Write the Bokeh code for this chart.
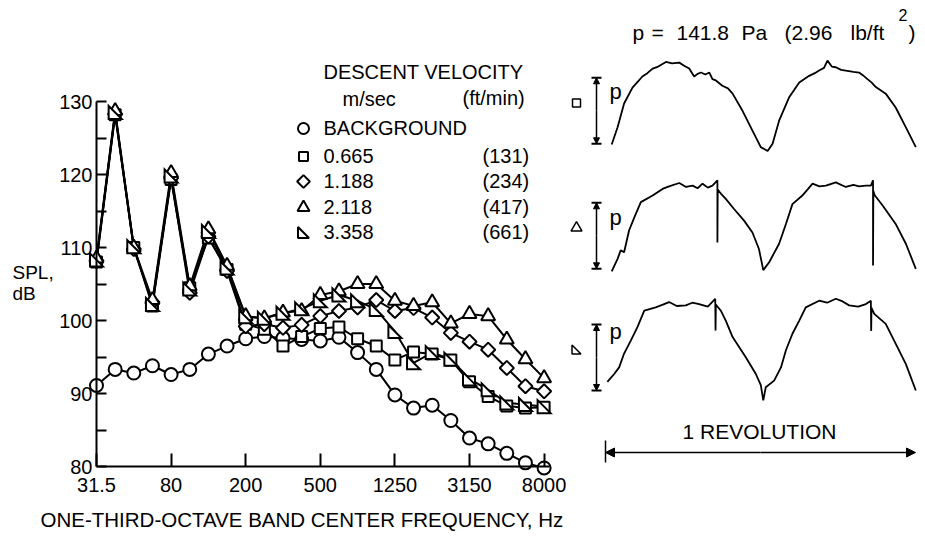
import numpy as np
from bokeh.plotting import figure
from bokeh.layouts import row
from bokeh.models import Range1d, FixedTicker, Label, Arrow, NormalHead
from bokeh.embed import file_html
from bokeh.resources import INLINE

# ---------------- data ----------------
bands = ["31.5", "40", "50", "63", "80", "100", "125", "160", "200", "250", "315", "400",
         "500", "630", "800", "1000", "1250", "1600", "2000", "2500", "3150", "4000",
         "5000", "6300", "8000"]
tick_band_labels = ["31.5", "80", "200", "500", "1250", "3150", "8000"]
y_ticks = [80, 90, 100, 110, 120, 130]
y_minor = [85, 95, 105, 115, 125]

spl_background = [91.1, 93.3, 92.8, 93.8, 92.6, 93.3, 95.4, 96.5, 97.5, 97.8, 97.6, 97.4,
                  97.2, 97.7, 95.6, 93.3, 89.8, 88.0, 88.4, 86.3, 83.9, 83.1, 81.8, 80.5, 79.8]
spl_0665 = [108.0, 128.2, 110.0, 102.0, 119.3, 104.5, 111.3, 107.0, 99.5, 98.8, 96.5, 97.8,
            98.9, 99.1, 97.5, 96.5, 94.6, 95.7, 95.4, 94.6, 91.6, 89.6, 88.3, 88.0, 88.1]
spl_1188 = [108.2, 128.3, 109.8, 102.5, 119.5, 103.8, 111.5, 106.8, 99.2, 99.5, 99.0, 99.4,
            100.6, 101.3, 101.8, 102.8, 101.3, 101.7, 100.4, 98.3, 97.1, 96.0, 93.5, 91.0, 90.3]
spl_2118 = [108.5, 128.7, 110.0, 102.8, 120.2, 104.7, 112.5, 107.5, 100.6, 100.3, 101.1, 101.3,
            103.5, 104.0, 105.0, 105.0, 102.7, 102.0, 102.5, 99.6, 100.9, 100.6, 97.4, 94.7, 92.1]
spl_3358 = [108.3, 128.5, 110.1, 102.2, 119.8, 104.3, 112.2, 107.2, 100.5, 100.3, 101.0, 101.6,
            102.7, 103.5, 102.7, 101.5, 98.5, 94.2, 95.6, 94.7, 92.0, 90.5, 88.7, 88.5, 88.2]

legend_title = "DESCENT VELOCITY"
legend_units = ["m/sec", "(ft/min)"]
legend_ms = ["BACKGROUND", "0.665", "1.188", "2.118", "3.358"]
legend_ftmin = ["", "(131)", "(234)", "(417)", "(661)"]

# blade-passage pressure traces (fraction of revolution, pressure in units of p)
trace_sq_r = [0.020, 0.039, 0.060, 0.087, 0.100, 0.119, 0.135, 0.152, 0.170, 0.195, 0.215, 0.238,
              0.255, 0.270, 0.286, 0.297, 0.308, 0.322, 0.335, 0.345, 0.356, 0.377, 0.395, 0.410,
              0.442, 0.474, 0.501, 0.523, 0.539, 0.560, 0.593, 0.625, 0.657, 0.675, 0.689, 0.705,
              0.716, 0.730, 0.743, 0.760, 0.775, 0.800, 0.818, 0.830, 0.845, 0.858, 0.872, 0.904,
              0.936, 0.969, 1.001]
trace_sq_p = [-0.01, 0.25, 0.61, 0.85, 0.92, 1.02, 1.07, 1.14, 1.17, 1.24, 1.22, 1.23,
              1.18, 1.14, 1.02, 1.06, 1.08, 1.05, 1.08, 0.98, 0.96, 0.88, 0.84, 0.76,
              0.50, 0.20, -0.05, -0.11, 0.00, 0.35, 0.71, 0.93, 1.03, 1.07, 1.11, 1.15,
              1.26, 1.17, 1.16, 1.12, 1.11, 1.09, 1.08, 1.04, 0.98, 0.93, 0.86, 0.76,
              0.55, 0.25, -0.05]
trace_tri_r = [0.020, 0.039, 0.049, 0.060, 0.076, 0.093, 0.114, 0.152, 0.184, 0.205, 0.238, 0.260,
               0.281, 0.297, 0.313, 0.330, 0.345, 0.361, 0.361, 0.362, 0.372, 0.388, 0.414, 0.447,
               0.474, 0.495, 0.509, 0.528, 0.560, 0.582, 0.603, 0.635, 0.668, 0.690, 0.711, 0.743,
               0.775, 0.800, 0.818, 0.840, 0.856, 0.863, 0.863, 0.864, 0.869, 0.894, 0.936, 0.969,
               1.001]
trace_tri_p = [-0.04, 0.15, 0.28, 0.25, 0.58, 0.78, 1.01, 1.11, 1.21, 1.25, 1.30, 1.24,
               1.26, 1.22, 1.29, 1.23, 1.26, 1.34, 0.40, 1.20, 1.14, 1.06, 0.91, 0.73,
               0.55, 0.30, -0.02, 0.10, 0.38, 0.68, 0.98, 1.11, 1.29, 1.25, 1.26, 1.31,
               1.24, 1.27, 1.25, 1.26, 1.26, 1.34, 0.05, 1.18, 1.11, 0.96, 0.68, 0.38,
               0.00]
trace_rt_r = [0.006, 0.028, 0.044, 0.060, 0.082, 0.103, 0.125, 0.162, 0.185, 0.205, 0.230, 0.259,
              0.280, 0.302, 0.330, 0.354, 0.355, 0.356, 0.365, 0.372, 0.388, 0.410, 0.453, 0.485,
              0.501, 0.509, 0.517, 0.544, 0.566, 0.582, 0.603, 0.625, 0.646, 0.689, 0.715, 0.743,
              0.765, 0.786, 0.815, 0.840, 0.856, 0.857, 0.858, 0.867, 0.904, 0.936, 0.969, 1.001]
trace_rt_p = [0.13, 0.25, 0.35, 0.56, 0.76, 0.96, 1.21, 1.26, 1.30, 1.34, 1.28, 1.29,
              1.33, 1.31, 1.27, 1.39, 0.91, 1.30, 1.25, 1.21, 1.06, 0.81, 0.50, 0.25,
              0.08, -0.15, 0.05, 0.15, 0.35, 0.61, 0.86, 1.06, 1.26, 1.36, 1.33, 1.39,
              1.35, 1.29, 1.27, 1.31, 1.36, 0.90, 1.25, 1.16, 1.01, 0.71, 0.40, 0.00]
scale_p = 1.0
revolution = [0.0, 1.0]

FONT = "Liberation Sans"
TXT_FIX = 9.0   # labels with an alphabetic baseline land this many px low

# ---------------- left chart ----------------
LW, H = 566, 532
XS, X0 = 18.65, 96.0      # px per band, canvas x of first band
YS, Y130 = 7.3, 101.0      # px per dB, canvas y of 130 dB


def lx(cx):
    return (cx - X0) / XS


def ly(cy):
    return 130 - (cy - Y130) / YS


p = figure(width=LW, height=H, output_backend="svg", toolbar_location=None,
           x_range=Range1d(lx(0), lx(LW)), y_range=Range1d(ly(H), ly(0)),
           min_border=0, min_border_left=0, min_border_right=0, min_border_top=0,
           min_border_bottom=0)
p.outline_line_color = None
p.grid.visible = False
p.background_fill_color = "white"
p.border_fill_color = "white"

idx = np.arange(len(bands))
tick_idx = [bands.index(b) for b in tick_band_labels]

xa = p.xaxis[0]
xa.fixed_location = 80
xa.bounds = (0, 24.3)
xa.ticker = FixedTicker(ticks=tick_idx, minor_ticks=[])
xa.major_label_overrides = {i: b for i, b in zip(tick_idx, tick_band_labels)}
ya = p.yaxis[0]
ya.fixed_location = 0
ya.bounds = (80, 130)
ya.ticker = FixedTicker(ticks=y_ticks, minor_ticks=y_minor)
for ax in (xa, ya):
    ax.axis_line_width = 2
    ax.axis_line_color = "black"
    ax.major_tick_line_width = 2
    ax.minor_tick_line_width = 2
    ax.major_tick_out = 0
    ax.minor_tick_out = 0
    ax.major_label_text_font = FONT
    ax.major_label_text_font_size = "20px"
    ax.major_label_text_color = "black"
xa.major_tick_in = 13
xa.major_label_standoff = 11
ya.major_tick_in = 10
ya.minor_tick_in = 10
ya.major_label_standoff = 4

series = [spl_background, spl_0665, spl_1188, spl_2118, spl_3358]
for s in series:
    p.line(idx, s, line_color="black", line_width=2)

p.scatter(idx, spl_background, marker="circle", size=13, fill_color="white",
          line_color="black", line_width=2)
p.scatter(idx, spl_0665, marker="square", size=11, fill_color="white",
          line_color="black", line_width=2)
p.scatter(idx, spl_1188, marker="square", angle=np.pi / 4, size=10, fill_color="white",
          line_color="black", line_width=2)
p.scatter(idx, spl_2118, marker="triangle", size=14, fill_color="white",
          line_color="black", line_width=2)


def rt_tri(xc, yc, hx, hy):
    xs = [[x - hx, x - hx, x + hx] for x in xc]
    ys = [[y + hy, y - hy, y - hy] for y in yc]
    return xs, ys


hx, hy = 6.5 / XS, 6.5 / YS
xs, ys = rt_tri(idx, spl_3358, hx, hy)
p.patches(xs, ys, fill_color="white", line_color="black", line_width=2,
          line_join="miter")


def ltext(fig, cx, cy, text, size, align="left"):
    fig.add_layout(Label(x=lx(cx), y=ly(cy - TXT_FIX), text=text, text_font=FONT,
                         text_font_size=size, text_align=align,
                         text_baseline="alphabetic", text_color="black"))


# y-axis title
ltext(p, 12, 281, "SPL,", "19px")
ltext(p, 12, 302, "dB", "19px")
# x-axis title
ltext(p, 40, 528, "ONE-THIRD-OCTAVE BAND CENTER FREQUENCY, Hz", "20.5px")

# legend
ltext(p, 323, 80, legend_title, "20px")
ltext(p, 342, 107, legend_units[0], "20px")
ltext(p, 462, 106, legend_units[1], "20px")
row_y = [128, 156, 181, 207, 232]
mk_x = 303
for k, (a, b) in enumerate(zip(legend_ms, legend_ftmin)):
    cy = row_y[k]
    ltext(p, 323, cy + 8, a, "20px")
    if b:
        ltext(p, 482, cy + 8, b, "20px")
p.scatter([lx(mk_x)], [ly(row_y[0])], marker="circle", size=11, fill_color="white",
          line_color="black", line_width=2)
p.scatter([lx(mk_x)], [ly(row_y[1])], marker="square", size=9, fill_color="white",
          line_color="black", line_width=2)
p.scatter([lx(mk_x)], [ly(row_y[2])], marker="square", angle=np.pi / 4, size=9,
          fill_color="white", line_color="black", line_width=2)
p.scatter([lx(mk_x)], [ly(row_y[3])], marker="triangle", size=12, fill_color="white",
          line_color="black", line_width=2)
lxs, lys = rt_tri([lx(mk_x)], [ly(row_y[4])], 5.5 / XS, 5.5 / YS)
p.patches(lxs, lys, fill_color="white", line_color="black", line_width=2)

# ---------------- right panel ----------------
RW = 925 - 8 - LW
SHIFT = 8          # right panel drawn 8 px left of the reference to fit the window
RS = 310.0         # px per revolution
VS = 66.0          # px per p
R0 = 613 - SHIFT - LW   # x (within right fig) of r = 0


def rr(refx):
    return (refx - 613) / RS


def rv(refy):
    return (H - refy) / VS


q = figure(width=RW, height=H, output_backend="svg", toolbar_location=None,
           x_range=Range1d(-R0 / RS, (RW - R0) / RS), y_range=Range1d(0, H / VS),
           min_border=0, min_border_left=0, min_border_right=0, min_border_top=0,
           min_border_bottom=0)
q.axis.visible = False
q.grid.visible = False
q.outline_line_color = None


def rtext(refx, refy, text, size, align="left"):
    q.add_layout(Label(x=rr(refx), y=rv(refy - TXT_FIX), text=text, text_font=FONT,
                       text_font_size=size, text_align=align, text_baseline="alphabetic",
                       text_color="black"))


traces = [(trace_sq_r, trace_sq_p, 143.3, "square", 100),
          (trace_tri_r, trace_tri_p, 268.3, "triangle", 226),
          (trace_rt_r, trace_rt_p, 390.0, "rt", 340)]
bar_x = rr(604)
for tr, tp, base_ref, mk, p_base in traces:
    v0 = rv(base_ref)
    q.line(tr, [v0 + v for v in tp], line_color="black", line_width=1.8)
    # scale bar of amplitude p
    q.add_layout(Arrow(x_start=bar_x, y_start=v0 + scale_p / 2, x_end=bar_x, y_end=v0 + scale_p,
                       line_width=1.5, end=NormalHead(size=6, fill_color="black", line_width=1)))
    q.add_layout(Arrow(x_start=bar_x, y_start=v0 + scale_p / 2, x_end=bar_x, y_end=v0,
                       line_width=1.5, end=NormalHead(size=6, fill_color="black", line_width=1)))
    cw = 5 / RS
    q.segment([bar_x - cw, bar_x - cw], [v0, v0 + scale_p], [bar_x + cw, bar_x + cw],
              [v0, v0 + scale_p], line_color="black", line_width=2)
    rtext(617, p_base, "p", "22px")
    mx, my = rr(584), v0 + 0.62
    if mk == "rt":
        xs2, ys2 = rt_tri([mx], [my], 4.5 / RS, 4.5 / VS)
        q.patches(xs2, ys2, fill_color="white", line_color="black", line_width=1.5)
    else:
        q.scatter([mx], [my], marker=mk, size=8 if mk == "square" else 11,
                  fill_color="white", line_color="black", line_width=1.5)

# pressure-scale caption, piece by piece
rtext(640, 41, "p", "21px")
rtext(659, 41, "=", "21px")
rtext(684, 41, "141.8", "21px")
rtext(749, 41, "Pa", "21px")
rtext(792, 41, "(2.96", "21px")
rtext(858, 41, "lb/ft", "21px")
rtext(906, 23, "2", "16px")
rtext(916, 41, ")", "21px")

q.add_layout(Label(x=rr(767), y=rv(440 - TXT_FIX), text="1 REVOLUTION",
                   text_font=FONT, text_font_size="21px", text_align="center",
                   text_baseline="alphabetic", text_color="black"))
va = rv(452)
q.add_layout(Arrow(x_start=0.5, y_start=va, x_end=revolution[1], y_end=va, line_width=1.5,
                   end=NormalHead(size=9, fill_color="black", line_width=1)))
q.add_layout(Arrow(x_start=0.5, y_start=va, x_end=revolution[0], y_end=va, line_width=1.5,
                   end=NormalHead(size=9, fill_color="black", line_width=1)))
q.segment([revolution[0]], [rv(440)], [revolution[0]], [rv(462)], line_color="black",
          line_width=1.5)

layout = row(p, q, spacing=0)
open("out.html", "w").write(file_html(layout, INLINE))
